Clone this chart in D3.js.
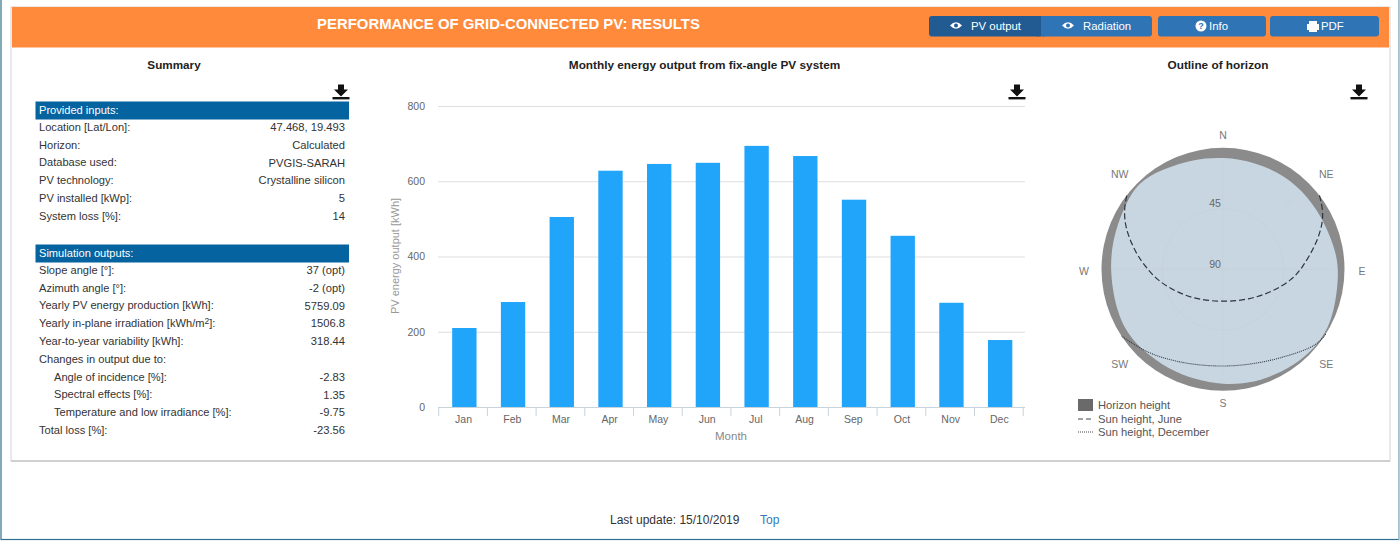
<!DOCTYPE html>
<html>
<head>
<meta charset="utf-8">
<script src="https://cdnjs.cloudflare.com/ajax/libs/d3/7.8.5/d3.min.js"></script>
<style>
html, body { margin: 0; padding: 0; background: #fff; overflow: hidden; }
text { font-family: "Liberation Sans", Arial, sans-serif; }
</style>
</head>
<body>
<svg id="page" width="1400" height="541"></svg>
<script>
// monthly output
var months = ["Jan","Feb","Mar","Apr","May","Jun","Jul","Aug","Sep","Oct","Nov","Dec"];
var monthlyOutput = [210,279,505,628,646,649,694,667,551,455,277,178];
var outputTicks = [0,200,400,600,800];

// summary table
var inputLabels = ["Location [Lat/Lon]:","Horizon:","Database used:","PV technology:","PV installed [kWp]:","System loss [%]:"];
var inputValues = ["47.468, 19.493","Calculated","PVGIS-SARAH","Crystalline silicon","5","14"];
var outputLabels = ["Slope angle [\u00b0]:","Azimuth angle [\u00b0]:","Yearly PV energy production [kWh]:","Yearly in-plane irradiation [kWh/m|2|]:","Year-to-year variability [kWh]:","Changes in output due to:","Angle of incidence [%]:","Spectral effects [%]:","Temperature and low irradiance [%]:","Total loss [%]:"];
var outputValues = ["37 (opt)","-2 (opt)","5759.09","1506.8","318.44","","-2.83","1.35","-9.75","-23.56"];
var indented = ["Angle of incidence [%]:","Spectral effects [%]:","Temperature and low irradiance [%]:"];

// horizon outline, azimuth from north in degrees and height in degrees
var horizonAz = [0,16.7,33.4,49.7,65.8,82,92.7,105.9,116.6,127.6,140.4,153.6,167,180,194.2,208.6,224.2,234.7,247.1,271.3,290,304,315.4,328.3,346];
var horizonH = [6.8,7,6.8,7,7,5,4.2,3.2,1,0,1.2,2.4,3.2,4.5,5.6,5.6,5.4,4.9,4.7,5.3,4.9,3.2,0.1,3,5.6];
var juneAz = [52.5,57,63.9,74.5,89.3,98.6,114.9,139.8,180,219.1,242.1,259.5,270.8,280.1,292.6,301.5,307.7];
var juneH = [0,2.6,7,17.8,31.5,38.3,50,60.5,65.8,61,52.5,41.3,33.5,24.5,11.5,4,0];
var decAz = [122.2,128.7,136,150,164.9,180,198.2,214.6,225.3,236.7];
var decH = [0,0.7,5.6,12.7,16.8,17.9,15.6,10.1,5.3,0];
var compass = ["N","NE","E","SE","S","SW","W","NW"];
var heightTicks = [45,90];

var svg = d3.select("#page");

function label(g, x, y, str, size, color, anchor, weight) {
    return g.append("text").attr("x", x).attr("y", y).attr("dy", "0.35em")
        .attr("text-anchor", anchor || "start")
        .attr("font-size", size).attr("font-weight", weight || "normal")
        .attr("fill", color).text(str);
}

function downloadIcon(x, y) {
    var g = svg.append("g").attr("transform", "translate(" + x + "," + y + ")");
    g.append("path").attr("d", "M-3,-7.5h6v5h4l-7,7l-7,-7h4z").attr("fill", "#111");
    g.append("rect").attr("x", -8.5).attr("y", 5).attr("width", 17).attr("height", 2.4).attr("fill", "#111");
}

// page frame
svg.append("rect").attr("x", 1).attr("y", -5).attr("width", 1398).attr("height", 544.5)
    .attr("fill", "#fff").attr("stroke", "#2f6f8f").attr("stroke-width", 1.2);
svg.append("rect").attr("x", 1398.6).attr("y", 0).attr("width", 1).attr("height", 541).attr("fill", "#d6e6ee");
svg.append("rect").attr("x", 11).attr("y", 7).attr("width", 1379).attr("height", 454)
    .attr("fill", "#fff").attr("stroke", "#d4d4d4").attr("stroke-width", 1);
svg.append("rect").attr("x", 11).attr("y", 460).attr("width", 1379).attr("height", 2).attr("fill", "#d0d0d0");

// orange header
svg.append("rect").attr("x", 12).attr("y", 7).attr("width", 1377).attr("height", 40.5).attr("fill", "#ff8a3c");
label(svg, 508.5, 24, "PERFORMANCE OF GRID-CONNECTED PV: RESULTS", 14.9, "#fff", "middle", "bold");

var buttonNames = ["PV output","Radiation","Info","PDF"];
var buttonX = [929,1041,1158,1270];
var buttonW = [112,111,108,109];
var buttonFill = ["#215b91","#2f74b5","#2f74b5","#2f74b5"];
var buttonText = [971,1083,1209,1321];
buttonNames.forEach(function(name, i) {
    svg.append("rect").attr("x", buttonX[i]).attr("y", 16).attr("width", buttonW[i]).attr("height", 20.5)
        .attr("rx", 3).attr("fill", buttonFill[i]);
    label(svg, buttonText[i], 26, name, 11.4, "#fff");
});
// the first two buttons are joined
svg.append("rect").attr("x", 1037).attr("y", 16).attr("width", 4).attr("height", 20.5).attr("fill", buttonFill[0]);
svg.append("rect").attr("x", 1041).attr("y", 16).attr("width", 4).attr("height", 20.5).attr("fill", buttonFill[1]);
[956,1068].forEach(function(x) {
    svg.append("path").attr("transform", "translate(" + x + ",25.5)")
        .attr("d", "M-6,0Q0,-6.5 6,0Q0,6.5 -6,0z").attr("fill", "#fff");
    svg.append("circle").attr("cx", x).attr("cy", 25.5).attr("r", 2).attr("fill", buttonFill[x == 956 ? 0 : 1]);
});
svg.append("circle").attr("cx", 1201).attr("cy", 26).attr("r", 5.5).attr("fill", "#fff");
label(svg, 1201, 26, "?", 9, "#2f74b5", "middle", "bold");
svg.append("path").attr("d", "M1309,21h8v3h2v6h-2v2h-8v-2h-2v-6h2z").attr("fill", "#fff");

// summary panel
label(svg, 174, 65, "Summary", 11.7, "#222", "middle", "bold");
downloadIcon(341, 92);

function summaryBlock(title, top, labels, values) {
    var g = svg.append("g");
    g.append("rect").attr("x", 35.5).attr("y", top).attr("width", 313.5).attr("height", 18).attr("fill", "#0563a0");
    label(g, 39, top + 8.5, title, 11.1, "#fff");
    labels.forEach(function(name, i) {
        var y = top + 25.5 + i * 17.8;
        var x = indented.indexOf(name) >= 0 ? 54 : 39;
        var parts = name.split("|");
        var t = label(g, x, y, parts[0], 11.1, "#333");
        if (parts.length > 1) {
            t.append("tspan").attr("font-size", 8.5).attr("baseline-shift", "30%").text(parts[1]);
            t.append("tspan").text(parts[2]);
        }
        label(g, 345, y, values[i], 11.2, "#333", "end");
    });
}
summaryBlock("Provided inputs:", 101.5, inputLabels, inputValues);
summaryBlock("Simulation outputs:", 244.5, outputLabels, outputValues);

// bar chart
label(svg, 704.5, 65, "Monthly energy output from fix-angle PV system", 11.8, "#222", "middle", "bold");
downloadIcon(1017, 92);

var x = d3.scaleBand().domain(months).range([440, 1024.5]).paddingInner(0.5).paddingOuter(0.25);
var y = d3.scaleLinear().domain([0, 800]).range([407, 106]);

var yAxis = svg.append("g").attr("transform", "translate(438,0)")
    .call(d3.axisLeft(y).tickValues(outputTicks).tickSize(0).tickPadding(13));
yAxis.select(".domain").remove();
yAxis.selectAll("text").attr("font-size", 10.5).attr("fill", "#666")
    .style("font-family", '"Liberation Sans", Arial, sans-serif');

svg.append("g").selectAll("line").data(outputTicks.slice(1)).join("line")
    .attr("x1", 438).attr("x2", 1025)
    .attr("y1", d => y(d) + 0.5).attr("y2", d => y(d) + 0.5)
    .attr("stroke", "#dedede");

svg.append("g").selectAll("rect").data(months).join("rect")
    .attr("x", d => x(d))
    .attr("y", (d, i) => y(monthlyOutput[i]))
    .attr("width", x.bandwidth())
    .attr("height", (d, i) => y(0) - y(monthlyOutput[i]))
    .attr("fill", "#21a5fb");

var xAxis = svg.append("g").attr("transform", "translate(-0.8,407.5)")
    .call(d3.axisBottom(x).tickSize(0).tickPadding(8));
xAxis.select(".domain").remove();
xAxis.selectAll("text").attr("font-size", 10.5).attr("fill", "#666")
    .style("font-family", '"Liberation Sans", Arial, sans-serif');

svg.append("line").attr("x1", 438).attr("x2", 1025).attr("y1", 407.5).attr("y2", 407.5).attr("stroke", "#c8d3dc");
var step = x.step();
svg.append("g").selectAll("line").data(d3.range(13)).join("line")
    .attr("x1", d => 438.7 + d * step).attr("x2", d => 438.7 + d * step)
    .attr("y1", 407.5).attr("y2", 416).attr("stroke", "#c8d3dc");

label(svg, 731, 436, "Month", 11.5, "#888", "middle");
label(svg, 0, 0, "PV energy output [kWh]", 11, "#999", "middle")
    .attr("transform", "translate(395,256) rotate(-90)");

// horizon polar chart
label(svg, 1218, 65, "Outline of horizon", 11.8, "#222", "middle", "bold");
downloadIcon(1359, 92);

var cx = 1223, cy = 269.3, R = 121.5;
var angle = d3.scaleLinear().domain([0, 360]).range([0, 2 * Math.PI]);
var radius = d3.scaleLinear().domain([0, 90]).range([R, 0]);

var polar = svg.append("g").attr("transform", "translate(" + cx + "," + cy + ")");
polar.append("circle").attr("r", radius(0)).attr("fill", "#8b8b8b");

var radial = d3.lineRadial().angle(d => angle(d[0])).radius(d => radius(d[1]));

polar.append("path")
    .attr("d", radial.curve(d3.curveBasisClosed)(d3.zip(horizonAz, horizonH)))
    .attr("fill", "#c8d6e1");

// faint grid, barely there in the original
polar.selectAll("circle.grid").data(heightTicks.slice(0, 1)).join("circle").attr("class", "grid")
    .attr("r", d => radius(d)).attr("fill", "none").attr("stroke", "#c5d3de");
polar.selectAll("line.grid").data(d3.range(0, 360, 45)).join("line").attr("class", "grid")
    .attr("x2", d => radius(8) * Math.sin(angle(d))).attr("y2", d => -radius(8) * Math.cos(angle(d)))
    .attr("stroke", "#c5d3de");

polar.append("path")
    .attr("d", radial.curve(d3.curveBasis)(d3.zip(juneAz, juneH)))
    .attr("fill", "none").attr("stroke", "#2b3640").attr("stroke-width", 1.2).attr("stroke-dasharray", "6,3");
polar.append("path")
    .attr("d", radial.curve(d3.curveBasis)(d3.zip(decAz, decH)))
    .attr("fill", "none").attr("stroke", "#2b3640").attr("stroke-width", 1.1).attr("stroke-dasharray", "1,1");

heightTicks.forEach(function(h) {
    label(polar, -8, -radius(h) - 5, h, 10.5, "#666", "middle");
});
compass.forEach(function(name, i) {
    var a = angle(i * 45);
    var diag = i % 2 == 1;
    var rx = diag ? 146 : 139, ry = diag ? 135 : 134;
    label(polar, rx * Math.sin(a), -ry * Math.cos(a) + (i % 4 == 2 ? 1.7 : 0), name, 10.5, "#777", "middle");
});

// polar legend
var legendNames = ["Horizon height","Sun height, June","Sun height, December"];
var legendY = [405,419,432];
var legend = svg.append("g");
legend.append("rect").attr("x", 1078).attr("y", 399).attr("width", 15).attr("height", 12).attr("fill", "#6a6a6a");
legend.append("line").attr("x1", 1078).attr("x2", 1093).attr("y1", 419).attr("y2", 419)
    .attr("stroke", "#444").attr("stroke-dasharray", "5,3");
legend.append("line").attr("x1", 1078).attr("x2", 1093).attr("y1", 432).attr("y2", 432)
    .attr("stroke", "#444").attr("stroke-dasharray", "1,1");
legendNames.forEach(function(name, i) {
    label(legend, 1098, legendY[i], name, 11.2, "#555");
});

// footer
label(svg, 610, 520, "Last update: 15/10/2019", 12, "#333");
label(svg, 760, 520, "Top", 12, "#337ab7");
</script>
</body>
</html>
